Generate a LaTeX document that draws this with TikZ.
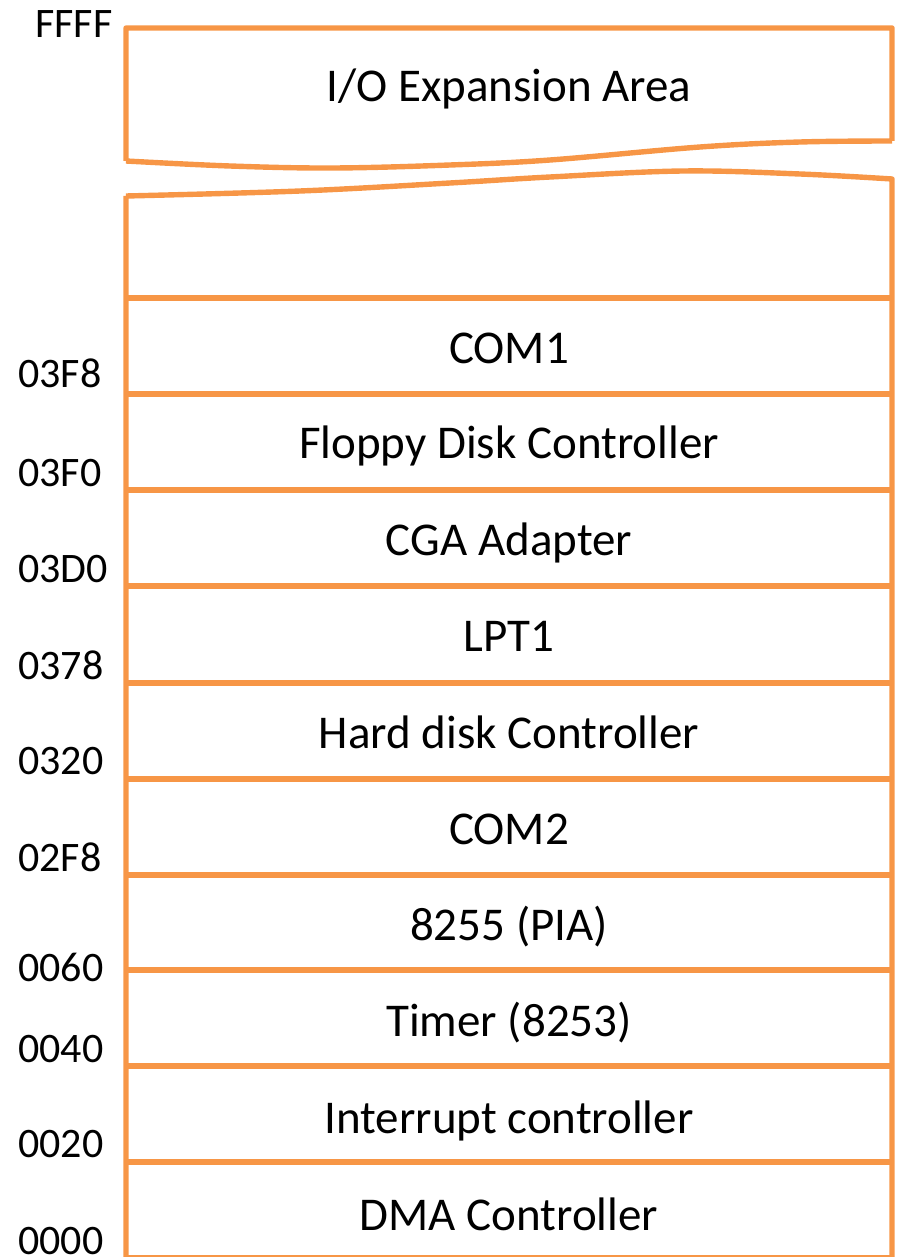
\documentclass[tikz,border=0pt]{standalone}
\usepackage{fontspec}
\setmainfont{Carlito}
\definecolor{boxorange}{RGB}{247,150,70}
\begin{document}
\begin{tikzpicture}[x=1pt,y=-1pt,
  frame/.style={draw=boxorange,line width=5.4pt,line join=round},
  rowtext/.style={font=\fontsize{47}{50}\selectfont,text height=30.3pt,text depth=0pt,inner sep=0pt,anchor=center},
  addr/.style={font=\fontsize{42}{44}\selectfont,text height=26.5pt,text depth=0pt,inner sep=0pt,anchor=west}]
\useasboundingbox (0,0) rectangle (899,1257);
\begin{scope}
\clip (0,0) rectangle (899,1257);
% upper box (expansion area)
\draw[frame] (126,161) -- (126,28) -- (892,28) -- (892,141)
  plot[smooth,tension=0.6] coordinates {(892,141) (800,142) (700,147) (550,160) (450,165) (333,168) (230,166) (126,161)};
% lower box
\draw[frame] (126,1265) -- (126,196)
  plot[smooth,tension=0.6] coordinates {(126,196) (300,191) (450,183) (550,177) (683,171) (800,174) (892,179)}
  -- (892,1265);
\foreach \yy in {298,394,490,586,683,779,875,970,1066,1162,1258}
  \draw[frame] (126,\yy) -- (892,\yy);
\end{scope}
% row texts
\node[rowtext] (io) at (509,86) {I/O Expansion Area};
\node[rowtext] (com1) at (509,348) {COM1};
\node[rowtext] (fdc) at (509,443) {Floppy Disk Controller};
\node[rowtext] (cga) at (509,540) {CGA Adapter};
\node[rowtext] (lpt1) at (509,636) {LPT1};
\node[rowtext] (hdc) at (509,733) {Hard disk Controller};
\node[rowtext] (com2) at (509,829) {COM2};
\node[rowtext] (pia) at (509,925) {8255 (PIA)};
\node[rowtext] (timer) at (509,1021) {Timer (8253)};
\node[rowtext] (pic) at (509,1118) {Interrupt controller};
\node[rowtext] (dma) at (509,1215) {DMA Controller};
% address labels
\node[addr] (aFFFF) at (35,24) {FFFF};
\node[addr] (a03F8) at (18,374) {03F8};
\node[addr] (a03F0) at (18,473) {03F0};
\node[addr] (a03D0) at (18,569) {03D0};
\node[addr] (a0378) at (18,666) {0378};
\node[addr] (a0320) at (18,761) {0320};
\node[addr] (a02F8) at (18,858) {02F8};
\node[addr] (a0060) at (18,968) {0060};
\node[addr] (a0040) at (18,1049) {0040};
\node[addr] (a0020) at (18,1144) {0020};
\node[addr] (a0000) at (18,1241) {0000};
\end{tikzpicture}
\end{document}
